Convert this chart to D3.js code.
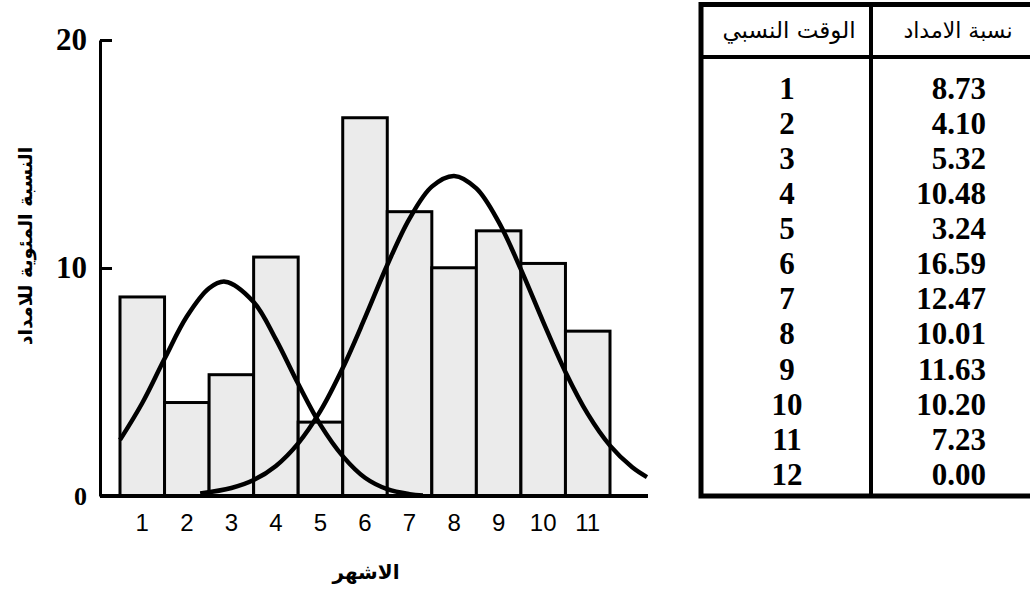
<!DOCTYPE html>
<html><head><meta charset="utf-8">
<script src="https://cdn.jsdelivr.net/npm/d3@7"></script>
<style>body{margin:0;background:#fff}</style>
</head><body><svg id="c" width="1030" height="592"></svg>
<script>
const months = [1,2,3,4,5,6,7,8,9,10,11];
const relTime = [1,2,3,4,5,6,7,8,9,10,11,12];
const supplyPct = [8.73,4.10,5.32,10.48,3.24,16.59,12.47,10.01,11.63,10.20,7.23,0.00];
const yTicks = [0,10,20];
const curveLeft = [[0.5,2.46],[1,4.08],[1.5,6.02],[2,7.87],[2.5,9.11],[2.86,9.4],[3.5,8.51],[4,6.87],[4.5,4.92],[5,3.12],[5.5,1.75],[6,0.8],[6.5,0.3],[7,0.08],[7.3,0.02]];
const curveRight = [[2.3,0.11],[3,0.35],[3.5,0.7],[4,1.32],[4.5,2.31],[5,3.73],[5.5,5.61],[6,7.82],[6.5,10.13],[7,12.17],[7.5,13.57],[8,14.04],[8.5,13.49],[9,12.02],[9.5,9.94],[10,7.64],[10.5,5.44],[11,3.6],[11.5,2.21],[12,1.26],[12.33,0.83]];
const headerTime = "الوقت النسبي";
const headerSupply = "نسبة الامداد";
const xTitle = "الاشهر";
const yTitle = "النسبة المئوية للامداد";

const svg = d3.select("#c");
svg.append("rect").attr("width",1030).attr("height",592).attr("fill","#fff");

const x = d3.scaleBand().domain(months).range([120,610]).padding(0);
const xc = d3.scaleLinear().domain([0.5,11.5]).range([120,610]);
const y = d3.scaleLinear().domain([0,20]).range([496,40]);

// bars
svg.append("g").selectAll("rect").data(months).join("rect")
  .attr("x", d => x(d))
  .attr("y", (d,i) => y(supplyPct[i]))
  .attr("width", x.bandwidth())
  .attr("height", (d,i) => y(0) - y(supplyPct[i]))
  .attr("fill","#ebebeb").attr("stroke","#000").attr("stroke-width",3);

// curves
const line = d3.line().x(d => xc(d[0])).y(d => y(d[1])).curve(d3.curveCatmullRom);
[curveLeft, curveRight].forEach(c => {
  svg.append("path").attr("d", line(c)).attr("fill","none")
    .attr("stroke","#000").attr("stroke-width",4.5).attr("stroke-linejoin","round");
});

// baseline
svg.append("line").attr("x1",100).attr("x2",648).attr("y1",y(0)).attr("y2",y(0))
  .attr("stroke","#000").attr("stroke-width",4);

// y axis
const gy = svg.append("g").attr("transform","translate(100,0)")
  .call(d3.axisLeft(y).tickValues(yTicks).tickSizeInner(-12).tickSizeOuter(0).tickPadding(13));
gy.select(".domain").attr("stroke-width",3);
gy.selectAll(".tick line").attr("stroke-width",3);
gy.selectAll(".tick text").attr("font-family","Liberation Serif").attr("font-weight","bold")
  .attr("font-size",d => d === 0 ? 26 : 31).attr("fill","#000");

// x axis
const gx = svg.append("g").attr("transform",`translate(0,${y(0)})`)
  .call(d3.axisBottom(x).tickSize(0).tickPadding(18));
gx.select(".domain").remove();
gx.selectAll(".tick text").attr("font-family","Liberation Sans").attr("font-size",24).attr("fill","#000");

// titles
svg.append("text").attr("x",366).attr("y",572).attr("text-anchor","middle").attr("dy","0.35em")
  .attr("font-family","DejaVu Sans").attr("font-weight","bold").attr("font-size",20).text(xTitle);
svg.append("text").attr("transform","translate(25,246) rotate(-90)").attr("text-anchor","middle").attr("dy","0.35em")
  .attr("font-family","DejaVu Sans").attr("font-weight","bold").attr("font-size",19).text(yTitle);

// table
const tb = svg.append("g");
const tL = 701, tR = 1041, tT = 4.5, tB = 496, tMid = 871, tHead = 57;
tb.append("rect").attr("x",tL).attr("y",tT).attr("width",tR-tL).attr("height",tB-tT)
  .attr("fill","none").attr("stroke","#000").attr("stroke-width",5);
tb.append("line").attr("x1",tL).attr("x2",tR).attr("y1",tHead).attr("y2",tHead).attr("stroke","#000").attr("stroke-width",4);
tb.append("line").attr("x1",tMid).attr("x2",tMid).attr("y1",tT).attr("y2",tB).attr("stroke","#000").attr("stroke-width",4);
tb.append("text").attr("x",789).attr("y",30).attr("dy","0.35em").attr("text-anchor","middle")
  .attr("font-family","DejaVu Sans").attr("font-size",23).text(headerTime);
tb.append("text").attr("x",958).attr("y",30).attr("dy","0.35em").attr("text-anchor","middle")
  .attr("font-family","DejaVu Sans").attr("font-size",22).text(headerSupply);

const row = d3.scalePoint().domain(relTime).range([88,474]);
tb.selectAll("text.t").data(relTime).join("text").attr("class","t")
  .attr("x",787).attr("y",d => row(d)).attr("dy","0.35em").attr("text-anchor","middle")
  .attr("font-family","Liberation Serif").attr("font-weight","bold").attr("font-size",31).text(d => d);
tb.selectAll("text.v").data(supplyPct).join("text").attr("class","v")
  .attr("x",986).attr("y",(d,i) => row(relTime[i])).attr("dy","0.35em").attr("text-anchor","end")
  .attr("font-family","Liberation Serif").attr("font-weight","bold").attr("font-size",31).text(d => d.toFixed(2));
</script>
</body></html>
